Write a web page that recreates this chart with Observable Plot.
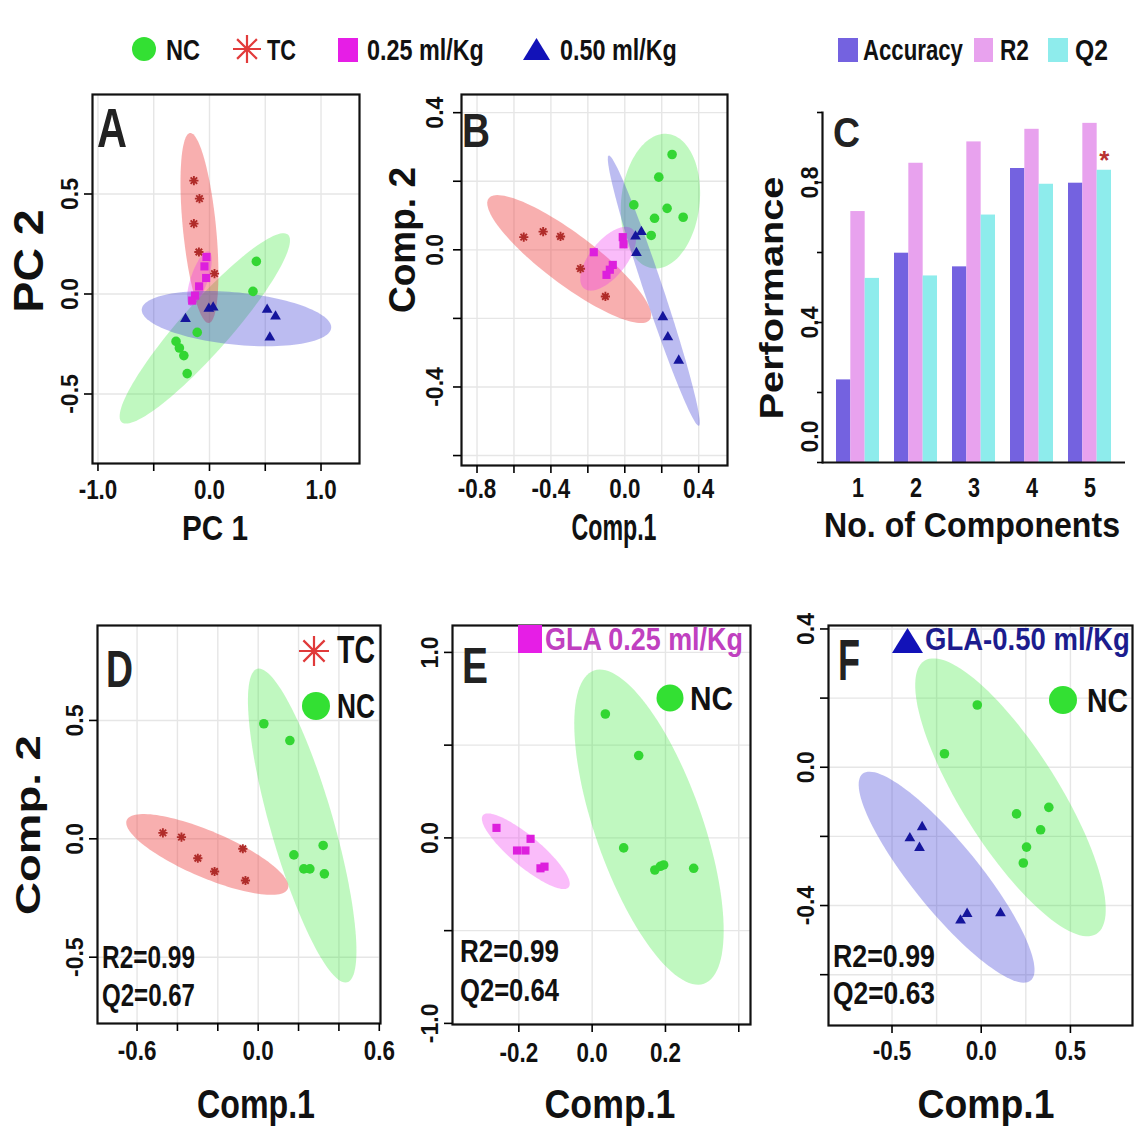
<!DOCTYPE html>
<html><head><meta charset="utf-8">
<script src="https://cdn.jsdelivr.net/npm/d3@7"></script>
<script src="https://cdn.jsdelivr.net/npm/@observablehq/plot@0.6"></script>
<style>
body{margin:0;background:#fff;}
#fig{position:relative;width:1136px;height:1128px;overflow:hidden;background:#fff;}
#fig > svg{position:absolute;}
</style></head><body><div id="fig"></div>
<script>
// ---------------- DATA ----------------
// Panel A: PCA scores [PC1, PC2]
const A_NC  = [[0.42,0.163],[0.39,0.013],[-0.11,-0.192],[-0.30,-0.237],[-0.27,-0.27],[-0.23,-0.308],[-0.20,-0.398]];
const A_TC  = [[-0.14,0.567],[-0.09,0.477],[-0.14,0.352],[-0.095,0.21],[0.045,0.102]];
const A_G25 = [[-0.027,0.185],[-0.045,0.138],[-0.03,0.08],[-0.093,0.038],[-0.13,-0.008],[-0.155,-0.033]];
const A_G50 = [[-0.215,-0.125],[-0.006,-0.073],[0.033,-0.067],[0.517,-0.078],[0.592,-0.112],[0.541,-0.217]];
// ellipses: [centre x, centre y, major-tip x, major-tip y, minor-tip x, minor-tip y]
const A_ell = {NC:[-0.042,-0.172,0.703,0.297,0.126,-0.253], TC:[-0.09,0.33,-0.17,0.805,0.06,0.325],
               G25:[-0.09,0.077,-0.006,0.213,-0.018,0.063], G50:[0.242,-0.123,1.091,-0.17,0.218,-0.253]};

// Panel B: PLS-DA components
const B_NC  = [[0.256,0.278],[0.184,0.212],[0.049,0.131],[0.229,0.121],[0.161,0.092],[0.316,0.095],[0.143,0.042]];
const B_TC  = [[-0.547,0.037],[-0.442,0.053],[-0.348,0.039],[-0.24,-0.055],[-0.105,-0.136]];
const B_G25 = [[-0.168,-0.007],[-0.011,0.037],[-0.007,0.016],[-0.065,-0.044],[-0.081,-0.058],[-0.099,-0.073]];
const B_G50 = [[0.058,0.039],[0.09,0.052],[0.063,-0.009],[0.206,-0.196],[0.233,-0.255],[0.292,-0.323]];
const B_ell = {NC:[0.193,0.142,0.233,0.338,0.404,0.129], TC:[-0.301,-0.027,0.135,-0.204,-0.383,-0.086],
               G25:[-0.09,-0.026,0.04,0.061,-0.013,-0.059], G50:[0.157,-0.119,-0.087,0.275,0.206,-0.11]};

// Panel C: performance by number of components
const components = [1,2,3,4,5];
const accuracy = [0.236,0.598,0.559,0.840,0.798];
const r2       = [0.717,0.855,0.916,0.952,0.969];
const q2       = [0.526,0.533,0.707,0.795,0.835];
const bestComponent = 5;
const cTicks = [0,0.2,0.4,0.6,0.8,1.0];

// Panel D: TC vs NC
const D_TC = [[-0.472,0.025],[-0.38,0.007],[-0.299,-0.082],[-0.216,-0.138],[-0.076,-0.042],[-0.063,-0.176]];
const D_NC = [[0.028,0.486],[0.157,0.415],[0.177,-0.068],[0.322,-0.028],[0.226,-0.127],[0.256,-0.127],[0.328,-0.148]];
const D_ell = {TC:[-0.252,-0.066,0.147,-0.211,-0.297,-0.156], NC:[0.218,0.056,-0.005,0.718,0.368,0.093]};

// Panel E: GLA 0.25 vs NC
const E_G25 = [[-0.261,0.054],[-0.168,-0.005],[-0.205,-0.068],[-0.182,-0.068],[-0.141,-0.164],[-0.13,-0.155]];
const E_NC  = [[0.036,0.668],[0.127,0.444],[0.086,-0.054],[0.171,-0.173],[0.186,-0.153],[0.195,-0.146],[0.277,-0.164]];
const E_ell = {G25:[-0.181,-0.072,-0.064,-0.266,-0.207,-0.135], NC:[0.155,0.058,0.005,0.902,0.293,0.153]};

// Panel F: GLA 0.50 vs NC
const F_G50 = [[-0.331,-0.173],[-0.4,-0.205],[-0.346,-0.233],[-0.079,-0.424],[-0.116,-0.443],[0.108,-0.422]];
const F_NC  = [[-0.022,0.18],[-0.206,0.039],[0.198,-0.135],[0.379,-0.116],[0.333,-0.181],[0.254,-0.231],[0.236,-0.277]];
const F_ell = {G50:[-0.194,-0.318,0.277,-0.617,-0.049,-0.257], NC:[0.164,-0.087,-0.318,0.308,0.394,-0.0125]};

const stats = {D:["R2=0.99","Q2=0.67"], E:["R2=0.99","Q2=0.64"], F:["R2=0.99","Q2=0.63"]};

// ---------------- HELPERS ----------------
const FONT = "'Liberation Sans', Arial, Helvetica, sans-serif";
const fig = document.getElementById("fig");
function fmt(d){ const s = Math.abs(d).toFixed(1); return (d < -1e-9 ? "-" : "") + s; }
function only(list){ return d => list.some(v => Math.abs(v - d) < 1e-9) ? fmt(d) : ""; }
function ellipse(e){
  const [cx,cy,tx,ty,sx,sy] = e;
  return d3.range(0, 361, 3).map(a => { const t = a*Math.PI/180;
    return [cx + Math.cos(t)*(tx-cx) + Math.sin(t)*(sx-cx), cy + Math.cos(t)*(ty-cy) + Math.sin(t)*(sy-cy)]; });
}
const asterisk8 = { draw(ctx, size){ const r = Math.sqrt(size/Math.PI);
  for (let k = 0; k < 4; k++){ const a = k*Math.PI/4; ctx.moveTo(r*Math.cos(a), r*Math.sin(a)); ctx.lineTo(-r*Math.cos(a), -r*Math.sin(a)); } } };

const STY = {
  NC:  {fill:"#33d633", ell:"#2ee82e", op:0.30, symbol:"circle", r:4.8},
  TC:  {stroke:"#b02c2a", ell:"#ee4040", op:0.42, symbol:asterisk8, r:4.6},
  G25: {fill:"#dd1fdd", ell:"#ee30ee", op:0.32, symbol:"square", r:4.6},
  G50: {fill:"#15159c", ell:"#3c3cd6", op:0.34, symbol:"triangle", r:4.0}
};

function place(svg, left, top){ svg.style.left = left + "px"; svg.style.top = top + "px"; fig.appendChild(svg); return svg; }
function squeeze(svg, sel, f){
  svg.querySelectorAll(sel).forEach(t => { const L = t.getComputedTextLength(); if (L > 0){ t.setAttribute("textLength", L*f); t.setAttribute("lengthAdjust","spacingAndGlyphs"); } });
}

function scatter(c){
  const marks = [
    Plot.gridX(c.xGrid || c.xTicks, {stroke:"#e6e6e6", strokeOpacity:1, strokeWidth:1.4}),
    Plot.gridY(c.yGrid || c.yTicks, {stroke:"#e6e6e6", strokeOpacity:1, strokeWidth:1.4})
  ];
  for (const s of c.series) marks.push(Plot.line(ellipse(s.ell), {fill: STY[s.g].ell, fillOpacity: STY[s.g].op, stroke:"none"}));
  for (const s of c.series){
    const st = STY[s.g];
    const o = {x: d => d[0], y: d => d[1], symbol: st.symbol, r: st.r};
    if (st.stroke){ o.stroke = st.stroke; o.fill = "none"; o.strokeWidth = 1.9; } else { o.fill = st.fill; o.stroke = "none"; }
    marks.push(Plot.dot(s.pts, o));
  }
  marks.push(Plot.frame({stroke:"#111", strokeWidth:2.2}));
  marks.push(Plot.axisX(c.xTicks, {anchor:"bottom", tickSize:8, tickPadding:c.xPad, tickFormat: only(c.xLabels), fontSize:28, fontWeight:"bold", fill:"#111", strokeWidth:1.6}));
  marks.push(Plot.axisY(c.yTicks, {anchor:"left", tickRotate:-90, tickSize:8, tickPadding:c.yPad, tickFormat: only(c.yLabels), fontSize:23, fontWeight:"bold", fill:"#111", strokeWidth:1.6}));
  const svg = Plot.plot({width:c.w, height:c.h, marginLeft:c.mL, marginRight:c.mR, marginTop:c.mT, marginBottom:c.mB,
    x:{domain:c.xDom}, y:{domain:c.yDom}, style:{fontFamily:FONT, background:"none", overflow:"visible"}, marks});
  place(svg, c.left, c.top);
  squeeze(svg, 'g[aria-label="x-axis tick label"] text', 0.8);
  return svg;
}

// ---------------- PANELS ----------------
scatter({left:0, top:80, w:380, h:480, mL:92, mR:21, mT:14, mB:97,
  xDom:[-1.049,1.345], yDom:[-0.8475,0.9975],
  xTicks:[-1,-0.5,0,0.5,1], xLabels:[-1,0,1], yTicks:[-0.5,0,0.5], yLabels:[-0.5,0,0.5], xPad:8, yPad:7,
  series:[{g:"NC",pts:A_NC,ell:A_ell.NC},{g:"TC",pts:A_TC,ell:A_ell.TC},{g:"G25",pts:A_G25,ell:A_ell.G25},{g:"G50",pts:A_G50,ell:A_ell.G50}]});

scatter({left:380, top:80, w:360, h:480, mL:81, mR:13, mT:14, mB:95,
  xDom:[-0.884,0.556], yDom:[-0.629,0.453],
  xTicks:[-0.8,-0.6,-0.4,-0.2,0,0.2,0.4], xLabels:[-0.8,-0.4,0,0.4], yTicks:[-0.6,-0.4,-0.2,0,0.2,0.4], yLabels:[-0.4,0,0.4], xPad:5, yPad:11,
  series:[{g:"NC",pts:B_NC,ell:B_ell.NC},{g:"TC",pts:B_TC,ell:B_ell.TC},{g:"G25",pts:B_G25,ell:B_ell.G25},{g:"G50",pts:B_G50,ell:B_ell.G50}]});

scatter({left:0, top:600, w:400, h:528, mL:97, mR:20, mT:25, mB:105,
  xDom:[-0.796,0.606], yDom:[-0.780,0.901],
  xTicks:[-0.6,-0.4,-0.2,0,0.2,0.4,0.6], xLabels:[-0.6,0,0.6], yTicks:[-0.5,0,0.5], yLabels:[-0.5,0,0.5], xPad:9, yPad:7,
  series:[{g:"TC",pts:D_TC,ell:D_ell.TC},{g:"NC",pts:D_NC,ell:D_ell.NC}]});

scatter({left:400, top:600, w:370, h:528, mL:52, mR:20, mT:25, mB:104,
  xDom:[-0.381,0.432], yDom:[-1.006,1.145],
  xTicks:[-0.2,0,0.2,0.4], xLabels:[-0.2,0,0.2], yTicks:[-1,-0.5,0,0.5,1], yLabels:[-1,0,1], xPad:10, yPad:7,
  series:[{g:"G25",pts:E_G25,ell:E_ell.G25},{g:"NC",pts:E_NC,ell:E_ell.NC}]});

scatter({left:770, top:600, w:366, h:528, mL:58, mR:4, mT:25, mB:103,
  xDom:[-0.856,0.848], yDom:[-0.747,0.41],
  xTicks:[-0.5,0,0.5], xGrid:[-0.5,-0.25,0,0.25,0.5], xLabels:[-0.5,0,0.5], yTicks:[-0.6,-0.4,-0.2,0,0.2,0.4], yLabels:[-0.4,0,0.4], xPad:7, yPad:7,
  series:[{g:"G50",pts:F_G50,ell:F_ell.G50},{g:"NC",pts:F_NC,ell:F_ell.NC}]});

// Panel C: grouped bars
{
  const bw = 43; // band width in px for the 3-bar group
  const idx = components.map((d,i) => i);
  const svg = Plot.plot({width:396, height:480, marginLeft:82, marginRight:11, marginTop:32, marginBottom:98,
    x:{type:"band", domain:components, paddingInner:0.2618, paddingOuter:0.2318},
    y:{domain:[0,1]},
    style:{fontFamily:FONT, background:"none", overflow:"visible"},
    marks:[
      Plot.barY(idx, {x: i => components[i], y: i => accuracy[i], fill:"#7462e0", insetRight: 2*bw/3}),
      Plot.barY(idx, {x: i => components[i], y: i => r2[i], fill:"#e8a2ee", insetLeft: bw/3, insetRight: bw/3}),
      Plot.barY(idx, {x: i => components[i], y: i => q2[i], fill:"#8eecec", insetLeft: 2*bw/3}),
      Plot.text([components.indexOf(bestComponent)], {x: i => components[i], y: i => q2[i], text: () => "*", dx: bw/3, dy: -10, fill:"#b83232", fontSize:26, fontWeight:"bold"}),
      Plot.ruleY([0], {stroke:"#111", strokeWidth:2.2}),
      Plot.frame({anchor:"left", stroke:"#111", strokeWidth:2.2}),
      Plot.axisY(cTicks, {anchor:"left", tickRotate:-90, tickSize:5, tickPadding:0, tickFormat: only([0.4,0.8]), fontSize:23, fontWeight:"bold", fill:"#111", strokeWidth:1.6}),
      // the 0.0 label sits above the baseline in the original figure
      Plot.text([0], {y: d => d, text: d => fmt(d), frameAnchor:"left", rotate:-90, lineAnchor:"bottom", textAnchor:"middle", dx:-5, dy:-26, fontSize:23, fontWeight:"bold", fill:"#111"}),
      Plot.axisX(components, {anchor:"bottom", tickSize:0, tickPadding:15, tickFormat: d => String(d), fontSize:27, fontWeight:"bold", fill:"#111"})
    ]});
  place(svg, 740, 80);
  squeeze(svg, 'g[aria-label="x-axis tick label"] text', 0.8);
}

// ---------------- OVERLAY: legends, titles, letters ----------------
const ov = d3.select(fig).append("svg").attr("width",1136).attr("height",1128)
  .style("left","0px").style("top","0px").style("font-family", FONT).style("pointer-events","none");
function T(s, x, y, o){
  const t = ov.append("text").text(s).attr("font-size", o.size).attr("font-weight", o.weight || "bold")
    .attr("fill", o.fill || "#111").attr("text-anchor", o.anchor || "start");
  let sx = 1;
  if (o.len){ const L = t.node().getComputedTextLength(); if (L > 0) sx = o.len / L; }
  t.attr("transform", `translate(${x},${y})` + (o.rotate ? ` rotate(${o.rotate})` : "") + ` scale(${sx},1)`);
}
function star(cx, cy, r, color, w){
  let d = ""; for (let k = 0; k < 4; k++){ const a = k*Math.PI/4; d += `M${cx+r*Math.cos(a)},${cy+r*Math.sin(a)}L${cx-r*Math.cos(a)},${cy-r*Math.sin(a)}`; }
  ov.append("path").attr("d", d).attr("stroke", color).attr("stroke-width", w).attr("fill","none");
}
function disc(cx, cy, r, color){ ov.append("circle").attr("cx",cx).attr("cy",cy).attr("r",r).attr("fill",color); }
function box(x, y, w, h, color){ ov.append("rect").attr("x",x).attr("y",y).attr("width",w).attr("height",h).attr("fill",color); }
function tri(x1, x2, yb, yt, color){ ov.append("path").attr("d", `M${x1},${yb}L${x2},${yb}L${(x1+x2)/2},${yt}Z`).attr("fill", color); }

// top legends
disc(144, 49, 12, "#33e033"); T("NC", 166, 60, {size:30, len:34});
star(247, 49, 14, "#e23b3b", 2.2); T("TC", 267, 60, {size:30, len:29});
box(338, 38, 20, 24, "#e61ee6"); T("0.25 ml/Kg", 367, 60, {size:30, len:117});
tri(523, 550, 60, 38, "#1212b8"); T("0.50 ml/Kg", 560, 60, {size:30, len:117});
box(838, 38, 20, 24, "#7462e0"); T("Accuracy", 863, 60, {size:30, len:100});
box(974, 38, 19, 24, "#e8a2ee"); T("R2", 1000, 60, {size:30, len:29});
box(1048, 38, 20, 24, "#8eecec"); T("Q2", 1075, 60, {size:30, len:33});

// panel letters
T("A", 97, 147, {size:56, len:30, fill:"#222"});
T("B", 462, 147, {size:49, len:28, fill:"#222"});
T("C", 833, 147, {size:42, len:27, fill:"#222"});
T("D", 106, 687, {size:52, len:27, fill:"#222"});
T("E", 462, 683, {size:50, len:26, fill:"#222"});
T("F", 838, 680, {size:58, len:22, fill:"#222"});

// axis titles
T("PC 1", 215, 540, {size:35, len:66, anchor:"middle"});
T("PC 2", 43, 261, {size:42, len:103, anchor:"middle", rotate:-90});
T("Comp.1", 614, 540, {size:36, len:85, anchor:"middle"});
T("Comp. 2", 415, 240, {size:36, len:146, anchor:"middle", rotate:-90});
T("No. of Components", 972, 537, {size:35, len:296, anchor:"middle"});
T("Performance", 783, 298, {size:33, len:243, anchor:"middle", rotate:-90});
T("Comp.1", 256, 1118, {size:41, len:118, anchor:"middle"});
T("Comp. 2", 40, 825, {size:35, len:180, anchor:"middle", rotate:-90});
T("Comp.1", 610, 1118, {size:41, len:131, anchor:"middle"});
T("Comp.1", 986, 1118, {size:41, len:137, anchor:"middle"});

// in-panel legends
star(314, 651, 15, "#e03a3a", 2.2); T("TC", 337, 663, {size:38, len:38});
disc(316, 706, 14, "#33e033"); T("NC", 337, 718, {size:35, len:38});
box(518, 625, 24, 28, "#e61ee6"); T("GLA 0.25 ml/Kg", 545, 650, {size:32, len:198, fill:"#c040c0"});
disc(670, 698, 13.5, "#33e033"); T("NC", 690, 710, {size:34, len:43});
tri(892, 923, 653, 628, "#1212b8"); T("GLA-0.50 ml/Kg", 925, 650, {size:32, len:205, fill:"#1c1c8e"});
disc(1063, 700, 14, "#33e033"); T("NC", 1087, 712, {size:34, len:41});

// R2 / Q2 annotations
T(stats.D[0], 102, 968, {size:32, len:93}); T(stats.D[1], 102, 1006, {size:32, len:93});
T(stats.E[0], 460, 962, {size:32, len:99}); T(stats.E[1], 460, 1001, {size:32, len:99});
T(stats.F[0], 833, 967, {size:32, len:102}); T(stats.F[1], 833, 1004, {size:32, len:102});
</script></body></html>
